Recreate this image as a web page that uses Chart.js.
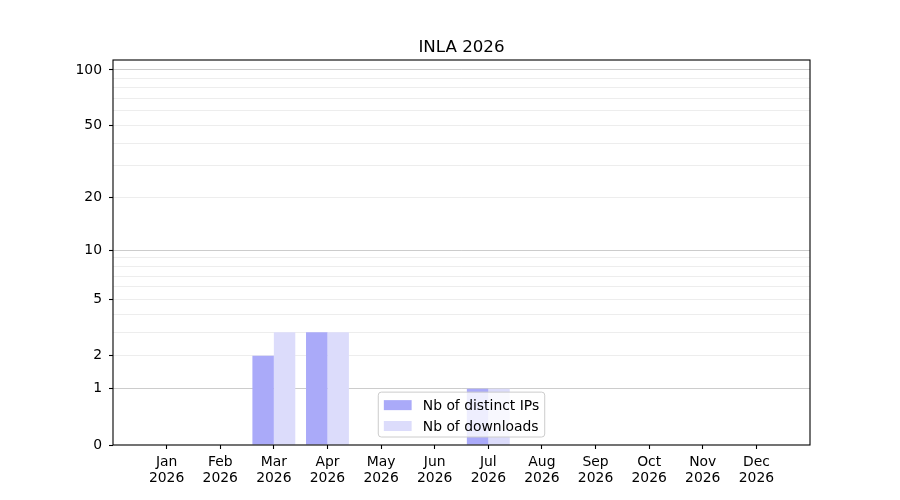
<!DOCTYPE html>
<html>
<head>
<meta charset="utf-8">
<script src="https://cdn.jsdelivr.net/npm/chart.js@4.4.1/dist/chart.umd.min.js"></script>
<style>
  html, body { margin: 0; padding: 0; background: #ffffff; }
  #wrap { width: 900px; height: 500px; }
</style>
</head>
<body>
<div id="wrap"><canvas id="c" width="900" height="500"></canvas></div>
<script>
// ---- data ----
const months = ['Jan','Feb','Mar','Apr','May','Jun','Jul','Aug','Sep','Oct','Nov','Dec'];
const yearLabel = '2026';
const ipsValues = [0, 0, 2, 3, 0, 0, 1, 0, 0, 0, 0, 0];
const downloadValues = [0, 0, 3, 3, 0, 0, 1, 0, 0, 0, 0, 0];
const yTickLabels = [0, 1, 2, 5, 10, 20, 50, 100];
const yMinorTicks = [3, 4, 6, 7, 8, 9, 30, 40, 60, 70, 80, 90];
const yMajorGrid = [1, 10, 100];
const yMax = 113.2;
const chartTitle = 'INLA 2026';
const seriesNames = ['Nb of distinct IPs', 'Nb of downloads'];

// ---- custom log(1+x) scale ----
class Log1pScale extends Chart.LinearScale {
  buildTicks() {
    const vals = yTickLabels.concat(yMinorTicks).sort((a, b) => a - b);
    return vals.map(v => ({ value: v }));
  }
  _t(v) { return Math.log10(1 + v); }
  getPixelForValue(value) {
    const a = this._t(this.min), b = this._t(this.max);
    return this.getPixelForDecimal((this._t(value) - a) / (b - a));
  }
  getValueForPixel(pixel) {
    const a = this._t(this.min), b = this._t(this.max);
    const d = this.getDecimalForPixel(pixel);
    return Math.pow(10, a + d * (b - a)) - 1;
  }
}
Log1pScale.id = 'log1p';
Log1pScale.defaults = {};
Chart.register(Log1pScale);

// padded categories so the axis extends one slot beyond Jan and Dec
const labels = [''].concat(months.map(m => [m, yearLabel])).concat(['']);
const pad = arr => [null].concat(arr).concat([null]);

const FONT = "'DejaVu Sans', sans-serif";

const framePlugin = {
  id: 'frame',
  afterDraw(chart) {
    const { ctx, chartArea: ca } = chart;
    ctx.save();
    ctx.strokeStyle = '#000000';
    ctx.lineWidth = 1.1;
    ctx.strokeRect(ca.left, ca.top, ca.right - ca.left, ca.bottom - ca.top);

    // legend (lower center, inside axes)
    ctx.font = '13.9px ' + FONT;
    const em = 13.9;
    const bp = 0.4 * em, hl = 2.0 * em, htp = 0.8 * em, ls = 0.5 * em;
    const tw = Math.max(...chart.data.datasets.map(d => ctx.measureText(d.label).width));
    const w = bp * 2 + hl + htp + tw;
    const rowH = em;
    const n = chart.data.datasets.length;
    const h = bp * 2 + n * rowH + (n - 1) * ls - 1;
    const cx = (ca.left + ca.right) / 2;
    const x0 = cx - w / 2;
    const y0 = ca.bottom - 8 - h;
    const r = 3;
    ctx.beginPath();
    ctx.moveTo(x0 + r, y0);
    ctx.lineTo(x0 + w - r, y0);
    ctx.arcTo(x0 + w, y0, x0 + w, y0 + r, r);
    ctx.lineTo(x0 + w, y0 + h - r);
    ctx.arcTo(x0 + w, y0 + h, x0 + w - r, y0 + h, r);
    ctx.lineTo(x0 + r, y0 + h);
    ctx.arcTo(x0, y0 + h, x0, y0 + h - r, r);
    ctx.lineTo(x0, y0 + r);
    ctx.arcTo(x0, y0, x0 + r, y0, r);
    ctx.closePath();
    ctx.fillStyle = 'rgba(255,255,255,0.8)';
    ctx.fill();
    ctx.strokeStyle = '#cccccc';
    ctx.lineWidth = 1;
    ctx.stroke();
    ctx.textBaseline = 'middle';
    ctx.textAlign = 'left';
    chart.data.datasets.forEach((d, i) => {
      const yc = y0 + bp + rowH / 2 + i * (rowH + ls) + 0.5;
      ctx.fillStyle = d.backgroundColor;
      ctx.fillRect(x0 + bp, yc - 5, hl, 10);
      ctx.fillStyle = '#000000';
      ctx.fillText(d.label, x0 + bp + hl + htp, yc + 1);
    });
    ctx.restore();
  }
};

new Chart(document.getElementById('c'), {
  type: 'bar',
  data: {
    labels: labels,
    datasets: [
      { label: seriesNames[0], data: pad(ipsValues), backgroundColor: '#aaaaf9', borderWidth: 0 },
      { label: seriesNames[1], data: pad(downloadValues), backgroundColor: '#dcdcfb', borderWidth: 0 }
    ]
  },
  options: {
    responsive: false,
    animation: false,
    devicePixelRatio: 1,
    categoryPercentage: 0.8,
    barPercentage: 1.0,
    layout: { padding: { left: 0, right: 90, top: 0, bottom: 0 } },
    plugins: {
      legend: { display: false },
      tooltip: { enabled: false },
      title: {
        display: true,
        fullSize: false,
        text: chartTitle,
        color: '#000000',
        font: { family: FONT, size: 16.67, weight: 'normal', lineHeight: 1.2 },
        padding: { top: 38, bottom: 2 }
      }
    },
    scales: {
      x: {
        type: 'category',
        offset: false,
        grid: {
          offset: false,
          drawOnChartArea: false,
          drawTicks: true,
          tickLength: 4,
          tickWidth: 1.1,
          tickColor: ctx => (ctx.index === 0 || ctx.index === labels.length - 1) ? 'rgba(0,0,0,0)' : '#000000'
        },
        border: { display: false },
        ticks: {
          autoSkip: false,
          maxRotation: 0,
          minRotation: 0,
          padding: 5,
          color: '#000000',
          font: { family: FONT, size: 13.9, lineHeight: 1.15 }
        },
        afterFit: s => { s.height = 55; }
      },
      y: {
        type: 'log1p',
        min: 0,
        max: yMax,
        z: 1,
        grid: {
          drawTicks: true,
          tickLength: 4,
          tickWidth: 1.1,
          lineWidth: 1,
          color: ctx => {
            const v = ctx.tick ? ctx.tick.value : null;
            if (v === 0) return 'rgba(0,0,0,0)';
            return yMajorGrid.includes(v) ? 'rgba(0,0,0,0.2)' : 'rgba(0,0,0,0.07)';
          },
          tickColor: ctx => (ctx.tick && yTickLabels.includes(ctx.tick.value)) ? '#000000' : 'rgba(0,0,0,0)'
        },
        border: { display: false },
        ticks: {
          autoSkip: false,
          padding: 7,
          color: '#000000',
          font: { family: FONT, size: 13.9 },
          callback: v => yTickLabels.includes(v) ? String(v) : ''
        },
        afterFit: s => { s.width = 113; }
      }
    }
  },
  plugins: [framePlugin]
});
</script>
</body>
</html>
